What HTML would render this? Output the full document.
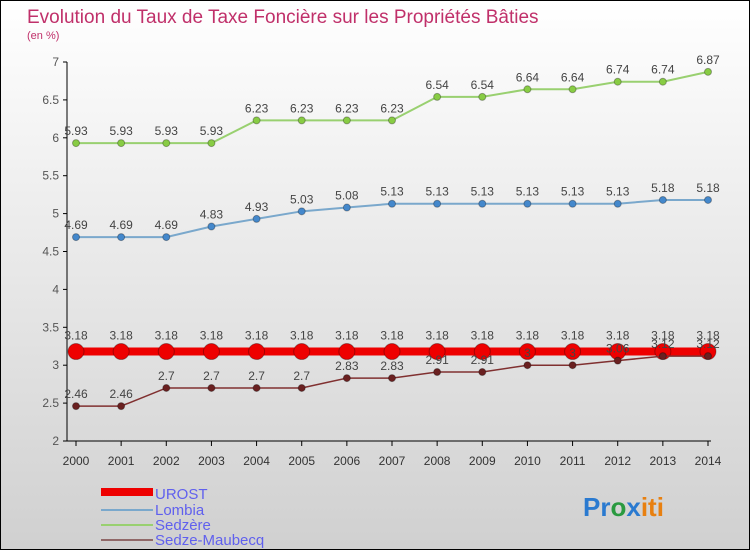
<!DOCTYPE html>
<html><head><meta charset="utf-8"><style>
body{margin:0;}
#wrap{width:748px;height:548px;border:1px solid #000;background:linear-gradient(#ffffff,#d0d0d0);position:relative;font-family:"Liberation Sans",sans-serif;overflow:hidden}
svg text{font-family:"Liberation Sans",sans-serif}
</style></head><body>
<div id="wrap">
<svg id="chart" width="748" height="548">
<text x="26" y="22" font-size="19" fill="#c0306a">Evolution du Taux de Taxe Foncière sur les Propriétés Bâties</text>
<text x="26" y="38" font-size="11" fill="#c0306a">(en %)</text>
<g id="axes"></g><g id="series"></g>
<g>
<rect x="100" y="487" width="52" height="8" fill="#ee0000"/>
<text x="154" y="498" font-size="15" fill="#6060ee">UROST</text>
<rect x="100" y="508" width="52" height="2" fill="#7aa8cc"/>
<text x="154" y="514" font-size="15" fill="#6060ee">Lombia</text>
<rect x="100" y="523" width="52" height="2" fill="#99d070"/>
<text x="154" y="529" font-size="15" fill="#6060ee">Sedzère</text>
<rect x="100" y="538" width="52" height="2" fill="#906868"/>
<text x="154" y="544" font-size="15" fill="#6060ee">Sedze-Maubecq</text>
</g>
<g font-size="26" font-weight="bold">
<text x="582" y="515"><tspan fill="#2a7ad0">Pr</tspan><tspan fill="#2a9a40">o</tspan><tspan fill="#2a7ad0">x</tspan><tspan fill="#e88010">iti</tspan></text>
</g>
</svg>
</div>
<script>
const years=[2000,2001,2002,2003,2004,2005,2006,2007,2008,2009,2010,2011,2012,2013,2014];
const yTicks=[2,2.5,3,3.5,4,4.5,5,5.5,6,6.5,7];
const yTickLabels=["2","2.5","3","3.5","4","4.5","5","5.5","6","6.5","7"];
const urost=[3.18,3.18,3.18,3.18,3.18,3.18,3.18,3.18,3.18,3.18,3.18,3.18,3.18,3.18,3.18];
const lombia=[4.69,4.69,4.69,4.83,4.93,5.03,5.08,5.13,5.13,5.13,5.13,5.13,5.13,5.18,5.18];
const sedzere=[5.93,5.93,5.93,5.93,6.23,6.23,6.23,6.23,6.54,6.54,6.64,6.64,6.74,6.74,6.87];
const maubecq=[2.46,2.46,2.7,2.7,2.7,2.7,2.83,2.83,2.91,2.91,3,3,3.06,3.12,3.12];
const NS="http://www.w3.org/2000/svg";
const x=i=>75+i*(632/(years.length-1));
const y=v=>440-(v-2)*(379/5);
function mk(tag,attrs,parent){const e=document.createElementNS(NS,tag);for(const k in attrs)e.setAttribute(k,attrs[k]);parent.appendChild(e);return e;}
const ax=document.getElementById('axes');
mk('line',{x1:66,y1:y(7),x2:66,y2:440,stroke:'#000'},ax);
mk('line',{x1:66,y1:440,x2:710,y2:440,stroke:'#000'},ax);
yTicks.forEach((t,i)=>{
  const l=mk('line',{x1:62,y1:y(t),x2:66,y2:y(t),stroke:'#000'},ax);
  
  
  const tx=mk('text',{x:58,y:y(t)+4,'font-size':12,fill:'#555','text-anchor':'end'},ax);
  tx.textContent=yTickLabels[i];
  
  
});
years.forEach((yr,i)=>{
  const l=mk('line',{x1:x(i),y1:440,x2:x(i),y2:445,stroke:'#000'},ax);
  
  
  const tx=mk('text',{x:x(i),y:464,'font-size':12,fill:'#333','text-anchor':'middle'},ax);
  tx.textContent=yr;
  
  
});
const sg=document.getElementById('series');
function draw(vals,color,dot,width,r,name,labelDy){
  const g=mk('g',{},sg);
  
  
  const pl=mk('polyline',{points:vals.map((v,i)=>x(i)+','+y(v)).join(' '),fill:'none',stroke:color,'stroke-width':width},g);
  
  
  vals.forEach((v,i)=>{
    const c=mk('circle',{cx:x(i),cy:y(v),r:r,fill:dot,stroke:'rgba(0,0,0,0.3)','stroke-width':1},g);
    
    
    const t=mk('text',{x:x(i),y:y(v)+labelDy,'font-size':12,fill:'#444','text-anchor':'middle'},g);
    t.textContent=String(v);
    
    
  });
}
draw(sedzere,'#99d070','#88cc44',2,3.5,'sedzere',-8);
draw(lombia,'#7aa8cc','#4488cc',2,3.5,'lombia',-8);
draw(urost,'#ee0000','#ee0000',8,8,'urost',-12);
draw(maubecq,'#803030','#6a2020',1.5,3.5,'sedze-maubecq',-8);
</script>
</body></html>
